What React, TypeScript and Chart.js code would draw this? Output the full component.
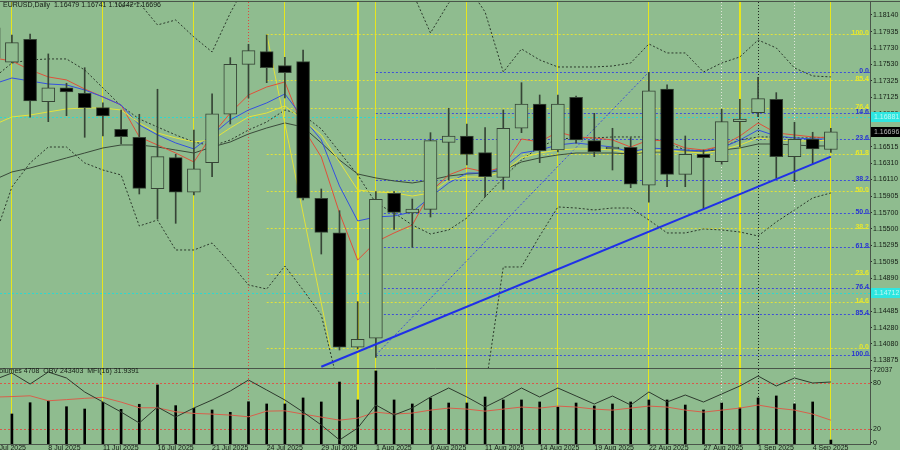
import React, { useEffect, useRef } from "react";
import { Chart, registerables } from "chart.js";

Chart.register(...registerables);

const BG = "#8fbc8f";
const FONT = '"Liberation Sans", Arial, sans-serif';
const TXT = "#141c14";
const FRAME = "#4a554a";
const OUTLINE = "#364436";

// ---------------- data ----------------
const dates = ["3 Jul", "4 Jul", "7 Jul", "8 Jul", "9 Jul", "10 Jul", "11 Jul", "14 Jul", "15 Jul", "16 Jul", "17 Jul", "18 Jul", "21 Jul", "22 Jul", "23 Jul", "24 Jul", "25 Jul", "28 Jul", "29 Jul", "30 Jul", "31 Jul", "1 Aug", "4 Aug", "5 Aug", "6 Aug", "7 Aug", "8 Aug", "11 Aug", "12 Aug", "13 Aug", "14 Aug", "15 Aug", "18 Aug", "19 Aug", "20 Aug", "21 Aug", "22 Aug", "25 Aug", "26 Aug", "27 Aug", "28 Aug", "29 Aug", "1 Sep", "2 Sep", "3 Sep", "4 Sep", "5 Sep"];

const opens = [1.17980, 1.17556, 1.17840, 1.17070, 1.17242, 1.17173, 1.16996, 1.16729, 1.16630, 1.15996, 1.16378, 1.15951, 1.16317, 1.16914, 1.17531, 1.17687, 1.17514, 1.17563, 1.15877, 1.15452, 1.14038, 1.14149, 1.15939, 1.15696, 1.15741, 1.16568, 1.16646, 1.16440, 1.16136, 1.16741, 1.17041, 1.16473, 1.17124, 1.16588, 1.16486, 1.16507, 1.16038, 1.17226, 1.16173, 1.16420, 1.16329, 1.16823, 1.16934, 1.17099, 1.16391, 1.16609, 1.16479];
const highs = [1.18078, 1.17893, 1.17905, 1.17659, 1.17297, 1.17489, 1.17054, 1.16967, 1.16914, 1.17223, 1.16420, 1.16720, 1.17165, 1.17613, 1.17778, 1.17893, 1.17618, 1.17708, 1.15992, 1.15724, 1.14601, 1.15959, 1.15959, 1.15868, 1.16687, 1.16988, 1.16794, 1.16749, 1.16967, 1.17304, 1.17152, 1.17152, 1.17140, 1.16926, 1.16741, 1.16625, 1.17433, 1.17276, 1.16646, 1.16473, 1.16976, 1.17099, 1.17371, 1.17181, 1.16815, 1.16692, 1.16741];
const lows = [1.17523, 1.17547, 1.16877, 1.16823, 1.16897, 1.16630, 1.16646, 1.16547, 1.15930, 1.15621, 1.15568, 1.15918, 1.16144, 1.16794, 1.17115, 1.17304, 1.17115, 1.15856, 1.15189, 1.14004, 1.14017, 1.13914, 1.15494, 1.15272, 1.15646, 1.16103, 1.16288, 1.15897, 1.15988, 1.16687, 1.16317, 1.16449, 1.16556, 1.16391, 1.16226, 1.16008, 1.15828, 1.16020, 1.16020, 1.15745, 1.16297, 1.16514, 1.16884, 1.16124, 1.16082, 1.16300, 1.16442];
const closes = [1.17609, 1.17798, 1.17078, 1.17242, 1.17189, 1.16996, 1.16893, 1.16638, 1.16000, 1.16391, 1.15951, 1.16242, 1.16921, 1.17531, 1.17699, 1.17489, 1.17428, 1.15877, 1.15457, 1.14038, 1.14136, 1.15865, 1.15704, 1.15745, 1.16588, 1.16646, 1.16420, 1.16144, 1.16741, 1.17041, 1.16465, 1.17041, 1.16597, 1.16452, 1.16510, 1.16050, 1.17205, 1.16173, 1.16420, 1.16378, 1.16823, 1.16856, 1.17107, 1.16391, 1.16605, 1.16486, 1.16696];

const maRed = [1.17609, 1.17572, 1.17461, 1.17375, 1.17338, 1.17226, 1.17128, 1.17029, 1.16634, 1.16535, 1.16436, 1.16325, 1.16659, 1.16930, 1.17152, 1.17251, 1.17313, 1.16745, 1.16387, 1.15696, 1.15115, 1.15338, 1.15449, 1.15547, 1.15955, 1.16165, 1.16251, 1.16202, 1.16264, 1.16609, 1.16572, 1.16696, 1.16634, 1.16622, 1.16597, 1.16510, 1.16597, 1.16585, 1.16498, 1.16473, 1.16523, 1.16646, 1.16807, 1.16683, 1.16659, 1.16634, 1.16622];
const maBlue = [1.17288, 1.17362, 1.17325, 1.17288, 1.17276, 1.17214, 1.17128, 1.17029, 1.16782, 1.16659, 1.16560, 1.16486, 1.16659, 1.16844, 1.16967, 1.17054, 1.17165, 1.16868, 1.16597, 1.16029, 1.15597, 1.15646, 1.15659, 1.15708, 1.15893, 1.16066, 1.16189, 1.16189, 1.16251, 1.16436, 1.16473, 1.16535, 1.16560, 1.16535, 1.16510, 1.16449, 1.16498, 1.16486, 1.16473, 1.16461, 1.16498, 1.16597, 1.16720, 1.16646, 1.16622, 1.16609, 1.16609];
const maYellow = [1.16782, 1.16881, 1.16905, 1.16943, 1.16980, 1.16992, 1.16992, 1.16967, 1.16807, 1.16683, 1.16622, 1.16572, 1.16597, 1.16745, 1.16881, 1.16930, 1.17017, 1.16844, 1.16659, 1.16325, 1.15980, 1.15955, 1.15943, 1.15905, 1.15943, 1.16103, 1.16140, 1.16140, 1.16202, 1.16375, 1.16436, 1.16473, 1.16486, 1.16486, 1.16473, 1.16436, 1.16461, 1.16461, 1.16449, 1.16436, 1.16473, 1.16535, 1.16622, 1.16597, 1.16585, 1.16585, 1.16597];
const maSlow = [1.16103, 1.16202, 1.16251, 1.16313, 1.16375, 1.16436, 1.16498, 1.16535, 1.16535, 1.16510, 1.16473, 1.16436, 1.16510, 1.16572, 1.16671, 1.16745, 1.16807, 1.16757, 1.16560, 1.16350, 1.16177, 1.16128, 1.16091, 1.16066, 1.16103, 1.16152, 1.16177, 1.16189, 1.16226, 1.16325, 1.16375, 1.16412, 1.16436, 1.16436, 1.16436, 1.16424, 1.16449, 1.16449, 1.16461, 1.16461, 1.16473, 1.16498, 1.16547, 1.16547, 1.16535, 1.16523, 1.16523];
const maDotted = [1.17362, 1.17547, 1.17585, 1.17597, 1.17597, 1.17461, 1.17239, 1.17017, 1.16856, 1.16757, 1.16659, 1.16572, 1.16523, 1.16597, 1.16720, 1.16819, 1.16967, 1.16905, 1.16733, 1.16449, 1.16165, 1.15819, 1.15696, 1.15547, 1.15436, 1.15486, 1.15634, 1.15893, 1.16128, 1.16350, 1.16510, 1.16609, 1.16622, 1.16622, 1.16634, 1.16634, 1.16634, 1.16560, 1.16473, 1.16461, 1.16510, 1.16597, 1.16634, 1.16634, 1.16622, 1.16622, 1.16634];
const bandUpper = [1.18881, 1.18819, 1.18757, 1.18634, 1.18572, 1.18510, 1.18387, 1.18239, 1.18288, 1.18017, 1.18078, 1.17868, 1.17683, 1.18165, 1.18572, 1.18696, 1.18696, 1.18634, 1.18696, 1.18819, 1.18819, 1.18696, 1.18572, 1.18424, 1.17918, 1.18288, 1.18510, 1.18177, 1.17436, 1.17720, 1.17585, 1.17498, 1.17498, 1.17498, 1.17510, 1.17547, 1.17782, 1.17671, 1.17671, 1.17436, 1.17547, 1.17622, 1.17831, 1.17733, 1.17486, 1.17387, 1.17375];
const bandLower = [1.15362, 1.16017, 1.16313, 1.16510, 1.16510, 1.16313, 1.16226, 1.16165, 1.15535, 1.15609, 1.15239, 1.15239, 1.15325, 1.15078, 1.14807, 1.14757, 1.15041, 1.14745, 1.14436, 1.13510, 1.13140, 1.13017, 1.13017, 1.13140, 1.13264, 1.13387, 1.13510, 1.13510, 1.15029, 1.15029, 1.15412, 1.15770, 1.15757, 1.15733, 1.15757, 1.15757, 1.15609, 1.15449, 1.15449, 1.15498, 1.15486, 1.15461, 1.15412, 1.15585, 1.15733, 1.15881, 1.15943];

const volumes = [35000, 29400, 40100, 41700, 36300, 34100, 40500, 33800, 38600, 56900, 37300, 34800, 33200, 31000, 41000, 38900, 38900, 44600, 40800, 59700, 42700, 70200, 42700, 38900, 44600, 39800, 39800, 45500, 42700, 42700, 40800, 36000, 39800, 37000, 38900, 40800, 42700, 42700, 37900, 33200, 39800, 35100, 44600, 46500, 38900, 40800, 4708];
const obv = [250600, 275800, 236200, 279400, 257800, 207400, 171400, 135400, 95800, 153400, 117400, 149800, 178600, 211000, 250600, 214600, 178600, 135400, 88600, 34600, 77800, 160600, 124600, 149800, 189400, 221800, 189400, 153400, 185800, 221800, 189400, 221800, 193000, 164200, 193000, 160600, 207400, 171400, 196600, 171400, 200200, 229000, 265000, 229000, 257800, 239800, 243403];
const mfi = [61.5, 62.2, 63.2, 56.8, 58.3, 59.9, 61.2, 55.1, 47.8, 47.8, 42.6, 40.6, 39.7, 38.4, 36.2, 43.5, 43.9, 39.7, 35.8, 31.9, 34.5, 42.2, 39.7, 41.0, 44.8, 47.4, 46.1, 43.5, 46.1, 48.7, 47.4, 50.0, 48.7, 46.1, 44.8, 47.4, 50.0, 48.7, 44.8, 42.2, 44.8, 47.4, 51.3, 47.4, 44.8, 39.7, 31.9];

const priceTicks = [1.18140, 1.17935, 1.17730, 1.17530, 1.17325, 1.17125, 1.16920, 1.16720, 1.16515, 1.16310, 1.16110, 1.15905, 1.15700, 1.15500, 1.15295, 1.15095, 1.14890, 1.14685, 1.14485, 1.14280, 1.14080, 1.13875];
const dateTickIdx = [0, 3, 6, 9, 12, 15, 18, 21, 24, 27, 30, 33, 36, 39, 42, 45];
const indTickValues = [96.3, 80, 20, 3];
const indTickLabels = ["72037", "80", "20", "0"];

const fibLevels = [0, 14.6, 23.6, 38.2, 50, 61.8, 76.4, 85.4, 100];
const fibBlue = { zeroPrice: 1.17436, fullPrice: 1.13943, startIdx: 21, endIdx: 36 };
const fibYellow = { zeroPrice: 1.14029, fullPrice: 1.17905, startIdx: 15, endIdx: 18.5 };
const trendIdx = [18, 46];
const trendPrice = [1.13798, 1.16391];
const cyanLevels = [1.16881, 1.14712];
const lastPrice = 1.16696;
const titleText = "EURUSD,Daily  1.16479 1.16741 1.16442 1.16696";
const indCaption = "Volumes 4708  OBV 243403  MFI(16) 31.9391";

const yellowVLines = [1, 6, 11, 16, 20, 21, 26, 31, 36, 41, 46];
const yellowThick = [20, 41];
const redVLines = [14];
const blackVLines = [42];
const whiteVLines = [40, 44];

const X_MIN = 0.346;
const X_MAX = 48.15;
const P_MIN = 1.13782;
const P_MAX = 1.183;
const IND_TOP_PAD = 5;

// ---------------- helpers ----------------
const pts = (arr: number[]) => arr.map((v, i) => ({ x: i, y: v }));
const fmtFib = (r: number) => r.toFixed(1);
const fibPrice = (f: { zeroPrice: number; fullPrice: number }, r: number) =>
  f.zeroPrice + (f.fullPrice - f.zeroPrice) * (r / 100);

function drawVLines(ctx: CanvasRenderingContext2D, xs: any, top: number, bottom: number) {
  const px = (i: number) => Math.floor(xs.getPixelForValue(i)) + 0.5;
  const line = (x: number) => {
    ctx.beginPath();
    ctx.moveTo(x, top);
    ctx.lineTo(x, bottom);
    ctx.stroke();
  };
  ctx.save();
  ctx.setLineDash([1, 2]);
  ctx.lineWidth = 1;
  ctx.strokeStyle = "#dfe6d8";
  whiteVLines.forEach((i) => line(px(i)));
  ctx.strokeStyle = "#1e261e";
  blackVLines.forEach((i) => line(px(i)));
  ctx.strokeStyle = "#e0463c";
  redVLines.forEach((i) => line(px(i)));
  ctx.setLineDash([]);
  ctx.strokeStyle = "#e6e61e";
  yellowVLines.forEach((i) => {
    const thick = yellowThick.includes(i);
    ctx.lineWidth = thick ? 2 : 1;
    line(thick ? Math.round(xs.getPixelForValue(i)) : px(i));
  });
  ctx.restore();
}

const mainPlugin = {
  id: "mainOverlay",
  beforeDraw(chart: any) {
    const { ctx, width, height } = chart;
    ctx.save();
    ctx.fillStyle = BG;
    ctx.fillRect(0, 0, width, height);
    ctx.restore();
  },
  beforeDatasetsDraw(chart: any) {
    const { ctx, chartArea: a } = chart;
    const xs = chart.scales.x;
    const ys = chart.scales.y;
    ctx.save();
    ctx.beginPath();
    ctx.rect(a.left, a.top, a.right - a.left, a.bottom - a.top);
    ctx.clip();
    drawVLines(ctx, xs, a.top, a.bottom);
    ctx.setLineDash([2, 2]);
    ctx.lineWidth = 1;
    ctx.strokeStyle = "#2ed8d0";
    cyanLevels.forEach((p) => {
      const y = Math.round(ys.getPixelForValue(p)) + 0.5;
      ctx.beginPath();
      ctx.moveTo(a.left, y);
      ctx.lineTo(a.right, y);
      ctx.stroke();
    });
    const drawFib = (f: any, color: string) => {
      ctx.strokeStyle = color;
      const x0 = xs.getPixelForValue(f.startIdx);
      fibLevels.forEach((r) => {
        const y = Math.round(ys.getPixelForValue(fibPrice(f, r))) + 0.5;
        ctx.beginPath();
        ctx.moveTo(x0, y);
        ctx.lineTo(a.right, y);
        ctx.stroke();
      });
    };
    drawFib(fibYellow, "#e2e23a");
    drawFib(fibBlue, "#3f4fd8");
    ctx.restore();
  },
  afterDraw(chart: any) {
    const { ctx, chartArea: a, width } = chart;
    const ys = chart.scales.y;
    ctx.save();
    ctx.font = `bold 7px ${FONT}`;
    ctx.textAlign = "right";
    ctx.textBaseline = "alphabetic";
    const lab = (f: any, color: string) => {
      ctx.fillStyle = color;
      fibLevels.forEach((r) => {
        const y = Math.round(ys.getPixelForValue(fibPrice(f, r)));
        ctx.fillText(fmtFib(r), a.right - 1, y + 1);
      });
    };
    lab(fibYellow, "#e8e82c");
    lab(fibBlue, "#2a36d0");
    ctx.strokeStyle = FRAME;
    ctx.lineWidth = 1;
    ctx.beginPath();
    ctx.moveTo(0, 1.5);
    ctx.lineTo(width, 1.5);
    ctx.moveTo(a.right + 0.5, 1.5);
    ctx.lineTo(a.right + 0.5, a.bottom + 1);
    ctx.moveTo(0, a.bottom + 0.5);
    ctx.lineTo(a.right + 0.5, a.bottom + 0.5);
    ctx.stroke();
    ctx.font = `7px ${FONT}`;
    ctx.textAlign = "left";
    ctx.textBaseline = "middle";
    cyanLevels.forEach((p) => {
      const y = Math.round(ys.getPixelForValue(p));
      ctx.fillStyle = "#2ee6e0";
      ctx.fillRect(a.right + 1, y - 5, width - a.right, 10);
      ctx.fillStyle = "#bff8f4";
      ctx.fillText(p.toFixed(5), a.right + 4, y + 0.5);
    });
    {
      const y = Math.round(ys.getPixelForValue(lastPrice));
      ctx.fillStyle = "#000000";
      ctx.fillRect(a.right + 1, y - 5, width - a.right, 10);
      ctx.fillStyle = "#b8b8b8";
      ctx.fillText(lastPrice.toFixed(5), a.right + 4, y + 0.5);
    }
    ctx.fillStyle = TXT;
    ctx.font = `7px ${FONT}`;
    ctx.textBaseline = "middle";
    ctx.fillText(titleText, 3, 5);
    ctx.restore();
  },
};

const indPlugin = {
  id: "indOverlay",
  beforeDraw(chart: any) {
    const { ctx, width, height } = chart;
    ctx.save();
    ctx.fillStyle = BG;
    ctx.fillRect(0, IND_TOP_PAD, width, height - IND_TOP_PAD);
    ctx.restore();
  },
  beforeDatasetsDraw(chart: any) {
    const { ctx, chartArea: a } = chart;
    const xs = chart.scales.x;
    const ym = chart.scales.yM;
    ctx.save();
    ctx.beginPath();
    ctx.rect(a.left, a.top, a.right - a.left, a.bottom - a.top);
    ctx.clip();
    drawVLines(ctx, xs, a.top, a.bottom);
    ctx.setLineDash([2, 2]);
    ctx.strokeStyle = "#d8584a";
    ctx.lineWidth = 1;
    [80, 20].forEach((v) => {
      const y = Math.round(ym.getPixelForValue(v)) + 0.5;
      ctx.beginPath();
      ctx.moveTo(a.left, y);
      ctx.lineTo(a.right, y);
      ctx.stroke();
    });
    ctx.restore();
  },
  afterDraw(chart: any) {
    const { ctx, chartArea: a } = chart;
    ctx.save();
    ctx.strokeStyle = FRAME;
    ctx.lineWidth = 1;
    ctx.beginPath();
    ctx.moveTo(a.right + 0.5, a.top);
    ctx.lineTo(a.right + 0.5, a.bottom);
    ctx.moveTo(0, a.bottom - 0.5);
    ctx.lineTo(a.right + 0.5, a.bottom - 0.5);
    ctx.stroke();
    ctx.fillStyle = TXT;
    ctx.font = `7px ${FONT}`;
    ctx.textAlign = "left";
    ctx.textBaseline = "middle";
    ctx.fillText(indCaption, -5, a.top + 2.5);
    ctx.restore();
  },
};

export default function App() {
  const mainRef = useRef<HTMLCanvasElement>(null);
  const indRef = useRef<HTMLCanvasElement>(null);

  useEffect(() => {
    document.body.style.margin = "0";
    document.body.style.overflow = "hidden";
    const idx = opens.map((_, i) => i);
    const wickData = idx.map((i) => ({ x: i, y: [lows[i], highs[i]] }));
    const bodyData = idx.map((i) => ({ x: i, y: [opens[i], closes[i]] }));
    const bodyColors = idx.map((i) => (closes[i] < opens[i] ? "#000000" : BG));

    const lineDs = (data: number[], color: string, order: number, dash: number[] = []) => ({
      type: "line" as const,
      data: pts(data),
      borderColor: color,
      borderWidth: 1,
      borderDash: dash,
      pointRadius: 0,
      tension: 0,
      order,
    });

    const main = new Chart(mainRef.current!, {
      type: "bar",
      data: {
        datasets: [
          lineDs(bandUpper, "#2c3a2c", 6, [2, 2]),
          lineDs(bandLower, "#2c3a2c", 6, [2, 2]),
          lineDs(maDotted, "#2c3a2c", 6, [2, 2]),
          lineDs(maSlow, "#3a4a3a", 5),
          lineDs(maYellow, "#e4e43c", 4),
          lineDs(maBlue, "#3450e0", 4),
          lineDs(maRed, "#e0503a", 4),
          {
            type: "line" as const,
            data: [
              { x: fibYellow.startIdx, y: fibYellow.fullPrice },
              { x: fibYellow.endIdx, y: fibYellow.zeroPrice },
            ],
            borderColor: "#e2e23a",
            borderWidth: 1,
            pointRadius: 0,
            order: 4,
          },
          {
            type: "line" as const,
            data: [
              { x: fibBlue.startIdx, y: fibBlue.fullPrice },
              { x: fibBlue.endIdx, y: fibBlue.zeroPrice },
            ],
            borderColor: "#3f4fd8",
            borderDash: [2, 2],
            borderWidth: 1,
            pointRadius: 0,
            order: 4,
          },
          {
            type: "bar" as const,
            data: wickData as any,
            backgroundColor: OUTLINE,
            barThickness: 1,
            grouped: false,
            order: 3,
          },
          {
            type: "bar" as const,
            data: bodyData as any,
            backgroundColor: bodyColors,
            borderColor: OUTLINE,
            borderWidth: 1,
            borderSkipped: false,
            barThickness: 13,
            grouped: false,
            order: 2,
          },
          {
            type: "line" as const,
            data: trendIdx.map((x, i) => ({ x, y: trendPrice[i] })),
            borderColor: "#1f30e8",
            borderWidth: 2,
            pointRadius: 0,
            order: 1,
          },
        ],
      },
      options: {
        animation: false,
        responsive: false,
        maintainAspectRatio: false,
        events: [],
        layout: { padding: { top: 2, bottom: 1, left: 0, right: 0 } },
        plugins: { legend: { display: false }, tooltip: { enabled: false } },
        scales: {
          x: { type: "linear", min: X_MIN, max: X_MAX, display: false, offset: false, grid: { offset: false } },
          y: {
            type: "linear",
            position: "right",
            min: P_MIN,
            max: P_MAX,
            beginAtZero: false,
            afterFit: (s: any) => {
              s.width = 30;
              s.paddingTop = 0;
              s.paddingBottom = 0;
            },
            afterBuildTicks: (s: any) => {
              s.ticks = priceTicks.map((v) => ({ value: v }));
            },
            ticks: {
              autoSkip: false,
              padding: 1,
              color: TXT,
              font: { family: FONT, size: 7 },
              callback: (v: any) => Number(v).toFixed(5),
            },
            grid: { drawOnChartArea: false, drawTicks: true, tickLength: 2, color: "#2a322a" },
            border: { display: false },
          },
        },
      } as any,
      plugins: [mainPlugin],
    });

    const ind = new Chart(indRef.current!, {
      type: "bar",
      data: {
        datasets: [
          {
            type: "line" as const,
            data: pts(mfi),
            yAxisID: "yM",
            borderColor: "#d8604c",
            borderWidth: 1,
            pointRadius: 0,
            order: 2,
          },
          {
            type: "line" as const,
            data: pts(obv),
            yAxisID: "yO",
            borderColor: "#2e3a2e",
            borderWidth: 1,
            pointRadius: 0,
            order: 1,
          },
          {
            type: "bar" as const,
            data: pts(volumes) as any,
            yAxisID: "yV",
            backgroundColor: "#000000",
            barThickness: 2,
            grouped: false,
            order: 3,
          },
        ],
      },
      options: {
        animation: false,
        responsive: false,
        maintainAspectRatio: false,
        events: [],
        layout: { padding: { top: IND_TOP_PAD, left: 0, right: 0, bottom: 0 } },
        plugins: { legend: { display: false }, tooltip: { enabled: false } },
        scales: {
          x: {
            type: "linear",
            min: X_MIN,
            max: X_MAX,
            position: "bottom",
            offset: false,
            afterBuildTicks: (s: any) => {
              s.ticks = dateTickIdx.map((v) => ({ value: v }));
            },
            afterFit: (s: any) => {
              s.height = 5;
              s.paddingLeft = 0;
              s.paddingRight = 0;
            },
            ticks: {
              autoSkip: false,
              maxRotation: 0,
              minRotation: 0,
              align: "start",
              padding: 0,
              color: TXT,
              font: { family: FONT, size: 7, lineHeight: 1 },
              callback: (_v: any, i: number) => dates[dateTickIdx[i]] + " 2025",
            },
            grid: { display: false, drawTicks: false, offset: false },
            border: { display: false },
          },
          yM: {
            type: "linear",
            position: "right",
            min: 0,
            max: 97.6,
            afterFit: (s: any) => {
              s.width = 30;
              s.paddingTop = 0;
              s.paddingBottom = 0;
            },
            afterBuildTicks: (s: any) => {
              s.ticks = indTickValues.map((v) => ({ value: v }));
            },
            ticks: {
              autoSkip: false,
              padding: 1,
              color: TXT,
              font: { family: FONT, size: 7 },
              callback: (_v: any, i: number) => indTickLabels[i],
            },
            grid: { drawOnChartArea: false, drawTicks: true, tickLength: 2, color: "#2a322a" },
            border: { display: false },
          },
          yV: { type: "linear", display: false, min: 0, max: 72037 },
          yO: { type: "linear", display: false, min: 16600, max: 290200 },
        },
      } as any,
      plugins: [indPlugin],
    });

    return () => {
      main.destroy();
      ind.destroy();
    };
  }, []);

  return (
    <div style={{ position: "absolute", left: 0, top: 0, width: 900, height: 450, background: BG, overflow: "hidden" }}>
      <canvas ref={mainRef} width={900} height={369} style={{ position: "absolute", left: 0, top: 0 }} />
      <canvas ref={indRef} width={900} height={86} style={{ position: "absolute", left: 0, top: 364 }} />
    </div>
  );
}
